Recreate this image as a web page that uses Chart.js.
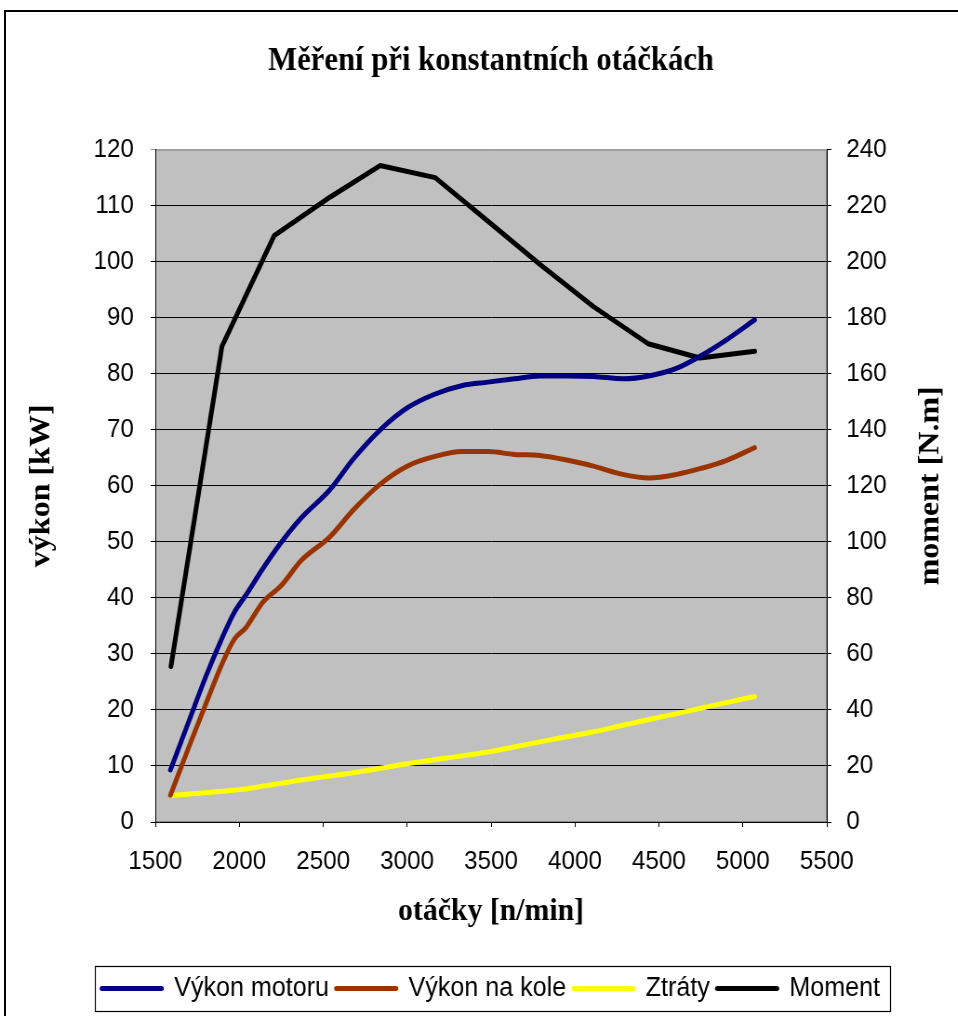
<!DOCTYPE html>
<html>
<head>
<meta charset="utf-8">
<script src="https://cdn.jsdelivr.net/npm/chart.js@4.4.1/dist/chart.umd.min.js"></script>
<style>
  html, body { margin: 0; padding: 0; background: #fff; overflow: hidden; }
  #frame { position: absolute; left: 4px; top: 10px; width: 1000px; height: 1100px; border: 2px solid #000; box-sizing: border-box; }
  /* the drawing is a little narrower than it is tall */
  #wrap { position: absolute; left: 0; top: 0; width: 1030px; height: 1016px; transform: scaleX(0.93); transform-origin: 0 0; }
</style>
</head>
<body>
<div id="frame"></div>
<div id="wrap"><canvas id="c" width="1030" height="1016"></canvas></div>
<script>
// Engine speed [n/min] at which the power figures were taken
const rpmPower = [1590, 1700, 1800, 1900, 1970, 2040, 2140, 2250, 2370, 2540, 2680, 2840, 3000,
                  3160, 3330, 3480, 3640, 3790, 3950, 4110, 4290, 4440, 4600, 4750, 4900, 5070];
// Engine power [kW]
const vykonMotoru = [9.3, 18.0, 25.9, 33.0, 37.4, 40.5, 45.2, 49.9, 54.3, 59.3, 64.8, 70.0, 73.9,
                     76.3, 77.9, 78.5, 79.1, 79.6, 79.6, 79.5, 79.1, 79.6, 80.9, 83.2, 86.0, 89.6];
// Power at the wheel [kW]
const vykonNaKole = [4.8, 13.4, 21.0, 28.4, 32.6, 34.7, 39.2, 42.2, 46.7, 50.9, 55.7, 60.3, 63.5,
                     65.2, 66.1, 66.1, 65.6, 65.4, 64.6, 63.5, 62.0, 61.4, 62.0, 63.1, 64.5, 66.8];
// Losses [kW]
const ztraty = [4.7, 5.0, 5.2, 5.5, 5.7, 5.9, 6.4, 6.9, 7.5, 8.2, 8.8, 9.6, 10.4,
                11.1, 11.8, 12.5, 13.4, 14.3, 15.2, 16.1, 17.3, 18.3, 19.3, 20.3, 21.3, 22.4];
// Torque [N.m] and its engine speeds
const rpmMoment = [1593, 1897, 2208, 2540, 2839, 3167, 3480, 3792, 4109, 4436, 4744, 5071];
const moment = [55.5, 169.8, 209.3, 223.0, 234.3, 230.0, 214.5, 199.0, 184.0, 170.7, 165.6, 168.0];

// Axis tick values
const rpmTicks = [1500, 2000, 2500, 3000, 3500, 4000, 4500, 5000, 5500];
const powerTicks = [0, 10, 20, 30, 40, 50, 60, 70, 80, 90, 100, 110, 120];
const torqueTicks = [0, 20, 40, 60, 80, 100, 120, 140, 160, 180, 200, 220, 240];

const SANS = "'Liberation Sans', Arial, sans-serif";
const SERIF = "'Liberation Serif', 'Times New Roman', serif";
const tickFont = { family: SANS, size: 26 };
const axisTitleFont = { family: SERIF, size: 32, weight: 'bold' };

const pts = (xs, ys) => xs.map((x, i) => ({ x, y: ys[i] }));
const useTicks = list => scale => { scale.ticks = list.map(v => ({ value: v })); };

// grey plot background with a thin frame
const plotBackground = {
  id: 'plotBackground',
  beforeDraw(chart) {
    const { ctx, chartArea: a } = chart;
    ctx.save();
    ctx.fillStyle = '#c0c0c0';
    ctx.fillRect(a.left, a.top, a.right - a.left, a.bottom - a.top);
    ctx.strokeStyle = '#8c8c8c';
    ctx.lineWidth = 1;
    ctx.strokeRect(a.left + 0.5, a.top + 0.5, a.right - a.left - 1, a.bottom - a.top - 1);
    ctx.restore();
  }
};

// box around the legend entries
const legendFrame = {
  id: 'legendFrame',
  afterDraw(chart) {
    const boxes = chart.legend && chart.legend.legendHitBoxes;
    if (!boxes || !boxes.length) return;
    const left = Math.min(...boxes.map(b => b.left));
    const right = Math.max(...boxes.map(b => b.left + b.width));
    const top = Math.min(...boxes.map(b => b.top));
    const bottom = Math.max(...boxes.map(b => b.top + b.height));
    const { ctx } = chart;
    ctx.save();
    ctx.strokeStyle = '#000';
    ctx.lineWidth = 1.2;
    ctx.strokeRect(Math.round(left - 8) + 0.5, Math.round(top - 9) + 0.5,
                   Math.round(right - left + 18), Math.round(bottom - top + 18));
    ctx.restore();
  }
};

// right axis title, reading upwards like the left one
const rightAxisTitle = {
  id: 'rightAxisTitle',
  afterDraw(chart) {
    const { ctx, chartArea: a } = chart;
    ctx.save();
    ctx.translate(1001, (a.top + a.bottom) / 2);
    ctx.rotate(-Math.PI / 2);
    ctx.font = `bold 32px ${SERIF}`;
    ctx.fillStyle = '#000';
    ctx.textAlign = 'center';
    ctx.textBaseline = 'middle';
    ctx.fillText('moment [N.m]', 0, 0);
    ctx.restore();
  }
};

new Chart(document.getElementById('c'), {
  type: 'line',
  data: {
    datasets: [
      { label: 'Výkon motoru', data: pts(rpmPower, vykonMotoru), borderColor: '#000080', backgroundColor: '#000080', yAxisID: 'y', cubicInterpolationMode: 'monotone' },
      { label: 'Výkon na kole', data: pts(rpmPower, vykonNaKole), borderColor: '#993300', backgroundColor: '#993300', yAxisID: 'y', cubicInterpolationMode: 'monotone' },
      { label: 'Ztráty', data: pts(rpmPower, ztraty), borderColor: '#ffff00', backgroundColor: '#ffff00', yAxisID: 'y', cubicInterpolationMode: 'monotone' },
      { label: 'Moment', data: pts(rpmMoment, moment), borderColor: '#000000', backgroundColor: '#000000', yAxisID: 'y1', tension: 0 }
    ]
  },
  options: {
    responsive: false,
    animation: false,
    devicePixelRatio: 1,
    events: [],
    elements: {
      point: { radius: 0 },
      line: { borderWidth: 5, borderCapStyle: 'round', borderJoinStyle: 'round', fill: false }
    },
    layout: { padding: { left: 26, right: 0, top: 10, bottom: 4 } },
    plugins: {
      title: {
        display: true,
        text: 'Měření při konstantních otáčkách',
        color: '#000',
        font: { family: SERIF, size: 33, weight: 'bold' },
        padding: { top: 32, bottom: 68 }
      },
      legend: {
        position: 'bottom',
        labels: {
          usePointStyle: true,
          pointStyle: 'line',
          pointStyleWidth: 64,
          color: '#000',
          font: { family: SANS, size: 27 },
          padding: 8,
          generateLabels(chart) {
            const items = Chart.defaults.plugins.legend.labels.generateLabels(chart);
            items.forEach(item => {
              const ds = chart.data.datasets[item.datasetIndex];
              item.strokeStyle = ds.borderColor;
              item.fillStyle = ds.borderColor;
              item.lineWidth = 5;
              item.lineCap = 'round';
            });
            return items;
          }
        }
      },
      tooltip: { enabled: false }
    },
    scales: {
      x: {
        type: 'linear',
        min: 1500, max: 5500,
        afterBuildTicks: useTicks(rpmTicks),
        ticks: { color: '#000', font: tickFont, padding: 19, maxRotation: 0, autoSkip: false, callback: v => String(v) },
        grid: { drawOnChartArea: false, drawTicks: true, tickLength: 5, color: '#000' },
        border: { color: '#000', width: 1 },
        title: { display: true, text: 'otáčky [n/min]', color: '#000', font: axisTitleFont, padding: { top: 0, bottom: 36 } },
        afterFit: s => { s.height = 145; }
      },
      y: {
        position: 'left',
        min: 0, max: 120,
        afterBuildTicks: useTicks(powerTicks),
        ticks: { color: '#000', font: tickFont, padding: 18, callback: v => String(v) },
        grid: { color: c => (c.tick && c.tick.value === 120 ? '#a0a0a0' : '#000'), lineWidth: 1, tickLength: 5 },
        border: { color: '#000', width: 1 },
        title: { display: true, text: 'výkon [kW]', color: '#000', font: axisTitleFont, padding: { top: 0, bottom: 0 } },
        afterFit: s => { s.width = 141; }
      },
      y1: {
        position: 'right',
        min: 0, max: 240,
        afterBuildTicks: useTicks(torqueTicks),
        ticks: { color: '#000', font: tickFont, padding: 16, callback: v => String(v) },
        grid: { drawOnChartArea: false, tickLength: 5, color: '#000' },
        border: { color: '#000', width: 1 },
        afterFit: s => { s.width = 141; }
      }
    }
  },
  plugins: [plotBackground, legendFrame, rightAxisTitle]
});
</script>
</body>
</html>
